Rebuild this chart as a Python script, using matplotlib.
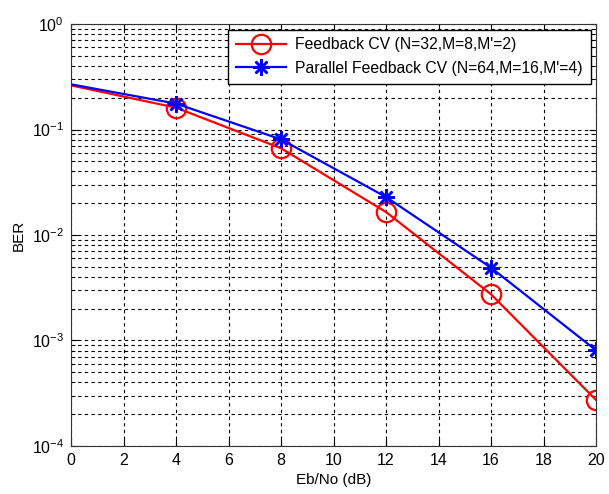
import matplotlib
matplotlib.use("Agg")
import matplotlib.pyplot as plt
from matplotlib.ticker import LogLocator, NullFormatter, MultipleLocator

plt.rcParams['font.family'] = ['Liberation Sans', 'DejaVu Sans']
plt.rcParams['mathtext.fontset'] = 'custom'
plt.rcParams['mathtext.rm'] = 'Liberation Sans'
plt.rcParams['mathtext.it'] = 'Liberation Sans'

x = [0, 4, 8, 12, 16, 20]
ber_feedback = [0.262, 0.161, 0.0664, 0.0165, 0.00274, 0.000273]
ber_parallel = [0.268, 0.176, 0.0807, 0.0229, 0.0049, 0.000807]
label_feedback = "Feedback CV (N=32,M=8,M'=2)"
label_parallel = "Parallel Feedback CV (N=64,M=16,M'=4)"

fig = plt.figure(figsize=(6.09, 4.94), dpi=100)
ax = fig.add_axes([0.1166, 0.0972, 0.8621, 0.8542])

ax.semilogy(x, ber_feedback, color='red', lw=1.6, marker='o', markersize=14,
            mfc='none', mec='red', mew=1.6, markevery=list(range(1, len(x))),
            label=label_feedback)
ax.semilogy(x, ber_parallel, color='blue', lw=1.6, marker=(8, 2, 0), markersize=12,
            mec='blue', mew=1.8, markevery=list(range(1, len(x))),
            label=label_parallel)

ax.set_xlim(0, 20)
ax.set_ylim(1e-4, 1e0)
ax.xaxis.set_major_locator(MultipleLocator(2))
ax.yaxis.set_major_locator(LogLocator(base=10, numticks=10))
ax.yaxis.set_minor_locator(LogLocator(base=10, subs=range(2, 10), numticks=10))
ax.yaxis.set_minor_formatter(NullFormatter())

ax.grid(True, which='major', axis='both', color='black', linestyle=(0, (3, 3)), lw=0.8)
ax.grid(True, which='minor', axis='y', color='black', linestyle=(0, (3, 3)), lw=0.8)
ax.tick_params(which='both', direction='in', top=True, right=True, labelsize=11.5, pad=5)
ax.tick_params(which='minor', length=3)
ax.tick_params(which='major', length=5)
for s in ax.spines.values():
    s.set_color('#333333')

ax.set_xlabel('Eb/No (dB)', fontsize=11)
ax.set_ylabel('BER', fontsize=11)

leg = ax.legend(loc='upper right', fontsize=11.3, fancybox=False, framealpha=1,
                edgecolor='black', borderaxespad=0.35, handlelength=3.2,
                borderpad=0.5, labelspacing=0.55, handletextpad=0.6)
leg.get_frame().set_linewidth(1.0)

fig.savefig('out.png', dpi=100)
